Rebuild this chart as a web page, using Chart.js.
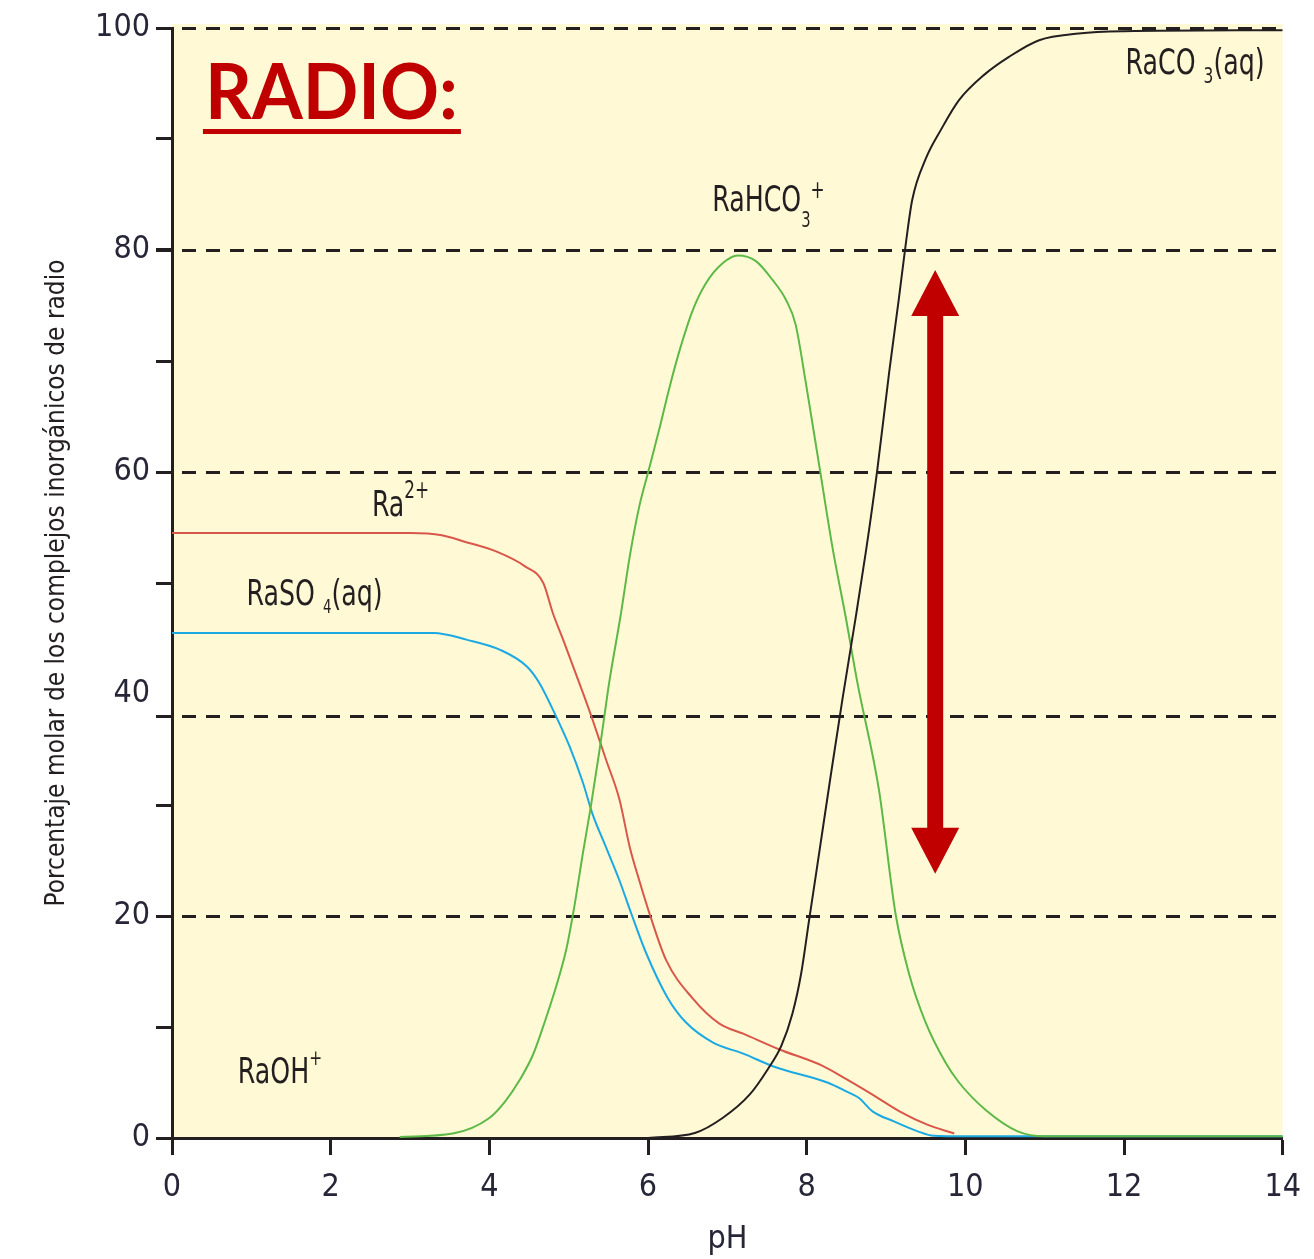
<!DOCTYPE html>
<html><head><meta charset="utf-8">
<script src="https://cdn.jsdelivr.net/npm/chart.js@4.4.1/dist/chart.umd.min.js"></script>
<style>html,body{margin:0;padding:0;background:#fff;overflow:hidden}#wrap{width:1314px;height:1259px}</style>
</head><body><div id="wrap"><canvas id="c" width="1314" height="1259"></canvas></div>
<script>
// ---- data (pH vs molar percentage) ----
const pHRa2   = [0, 3.0, 3.4, 3.7, 4.1, 4.45, 4.68, 4.8, 4.93, 5.18, 5.30, 5.47, 5.64, 5.77, 5.89, 6.02, 6.23, 6.56, 6.9, 7.2, 7.65, 8.2, 8.5, 8.83, 9.17, 9.52, 9.86];
const pctRa2  = [54.5, 54.5, 54.3, 53.7, 52.8, 51.5, 50.0, 47.3, 44.9, 40.1, 37.7, 34.1, 30.5, 26.2, 23.2, 20.2, 16.0, 12.6, 10.3, 9.4, 8.0, 6.5, 5.3, 3.9, 2.4, 1.2, 0.4];

const pHRaSO4  = [0, 3.3, 3.71, 4.13, 4.47, 4.63, 4.84, 5.01, 5.18, 5.30, 5.47, 5.64, 5.79, 5.98, 6.25, 6.48, 6.82, 7.2, 7.6, 8.26, 8.5, 8.66, 8.83, 9.1, 9.4, 9.6, 10, 14];
const pctRaSO4 = [45.5, 45.5, 44.9, 44.0, 42.5, 41.0, 38.0, 35.3, 32.0, 29.2, 26.2, 23.2, 20.2, 16.6, 12.6, 10.4, 8.6, 7.6, 6.4, 5.0, 4.2, 3.6, 2.4, 1.5, 0.6, 0.2, 0.15, 0.15];

const pHRaHCO3  = [2.87, 3.54, 4.0, 4.2, 4.38, 4.55, 4.7, 4.84, 4.97, 5.07, 5.18, 5.28, 5.39, 5.45, 5.51, 5.66, 5.77, 5.89, 6.01, 6.14, 6.27, 6.40, 6.56, 6.73, 6.94, 7.13, 7.36, 7.57, 7.74, 7.86, 7.99, 8.16, 8.33, 8.49, 8.64, 8.91, 9.12, 9.29, 9.5, 9.75, 9.92, 10.26, 10.66, 11.0, 14];
const pctRaHCO3 = [0.1, 0.4, 1.8, 3.3, 5.2, 7.5, 10.5, 13.6, 17.0, 20.8, 25.7, 29.9, 35.0, 38.0, 41.0, 47.3, 52.4, 56.9, 60.2, 63.8, 67.6, 71.0, 74.5, 77.0, 78.8, 79.5, 79.0, 77.3, 75.5, 73.3, 68.0, 60.5, 53.0, 47.0, 41.0, 31.4, 20.2, 14.8, 10.4, 6.8, 5.0, 2.5, 0.6, 0.15, 0.15];

const pHRaCO3  = [6.0, 6.59, 6.94, 7.28, 7.51, 7.68, 7.82, 7.93, 8.03, 8.16, 8.3, 8.45, 8.62, 8.75, 8.89, 9.04, 9.16, 9.25, 9.33, 9.5, 9.69, 9.92, 10.24, 10.55, 10.93, 11.43, 12, 14];
const pctRaCO3 = [0.0, 0.45, 1.8, 3.9, 6.2, 8.3, 11.2, 14.8, 19.6, 25.8, 32.5, 39.5, 47.0, 53.0, 60.2, 69.0, 75.5, 80.6, 84.5, 88.2, 90.8, 93.5, 95.8, 97.4, 98.9, 99.5, 99.7, 99.8];

// axes
const xMin = 0, xMax = 14, xStep = 2;
const yMin = 0, yMax = 100, yStep = 10, yLabelEvery = 20;
const dashedLevels = [20, 38, 60, 80, 100];
const xTitle = 'pH';
const yTitle = 'Porcentaje molar de los complejos inorgánicos de radio';
const chartTitle = 'RADIO:';

const NARROW = '"Liberation Sans Narrow", "DejaVu Sans Condensed", "Roboto Condensed", sans-serif';
const INK = '#231f20';

const pts = (xs, ys) => xs.map((x, i) => ({x, y: ys[i]}));

// annotations (positions in data units)
const speciesLabels = [
  {ph: 2.52, pct: 56.0, parts: [['Ra', 36, 0], ['2+', 24, -18]]},
  {ph: 0.94, pct: 48.0, parts: [['RaSO ', 36, 0], ['4', 19, 8], ['(aq)', 36, 0]]},
  {ph: 0.83, pct: 5.0,  parts: [['RaOH', 36, 0], ['+', 22, -18]]},
  {ph: 6.81, pct: 83.5, parts: [['RaHCO', 36, 0], ['3', 21, 16], ['+', 24, -13]]},
  {ph: 12.02, pct: 95.9, parts: [['RaCO ', 36, 0], ['3', 22, 9], ['(aq)', 36, 0]]}
];
const arrowAt = {ph: 9.62, from: 23.8, to: 78.2};
const titleAt = {ph: 0.415, pct: 91.8};

const decor = {
  id: 'decor',
  beforeDraw(chart) {
    const {ctx, chartArea: a} = chart;
    ctx.save();
    ctx.fillStyle = '#fffad5';
    ctx.fillRect(a.left, a.top - 4, a.right - a.left, a.bottom - a.top + 4);
    ctx.restore();
  },
  beforeDatasetsDraw(chart) {
    const {ctx, chartArea: a, scales: {y}} = chart;
    ctx.save();
    ctx.strokeStyle = INK;
    ctx.lineWidth = 3;
    dashedLevels.forEach(v => {
      const py = Math.round(y.getPixelForValue(v)) + 0.5;
      ctx.setLineDash([14, 10]);
      ctx.beginPath(); ctx.moveTo(a.left + 10, py); ctx.lineTo(a.right, py); ctx.stroke();
      ctx.setLineDash([]);
      ctx.beginPath(); ctx.moveTo(a.left - 16, py); ctx.lineTo(a.left, py); ctx.stroke();
    });
    ctx.restore();
  },
  afterDatasetsDraw(chart) {
    const {ctx, scales: {x, y}} = chart;
    ctx.save();
    // species labels
    const sx = 0.78;
    speciesLabels.forEach(l => {
      let px = x.getPixelForValue(l.ph);
      const py = y.getPixelForValue(l.pct);
      ctx.fillStyle = INK;
      ctx.textBaseline = 'alphabetic';
      ctx.textAlign = 'left';
      l.parts.forEach(([t, size, dy]) => {
        ctx.font = size + 'px ' + NARROW;
        const w = ctx.measureText(t).width * sx;
        ctx.save();
        ctx.translate(px, py + dy);
        ctx.scale(sx, 1);
        ctx.fillText(t, 0, 0);
        ctx.restore();
        px += w;
      });
    });
    // title
    const tx = x.getPixelForValue(titleAt.ph), ty = y.getPixelForValue(titleAt.pct);
    ctx.fillStyle = '#c00000';
    ctx.font = 'bold 76px Lato, "Open Sans", sans-serif';
    const tw = ctx.measureText(chartTitle).width;
    const tsx = 253 / tw;
    ctx.save();
    ctx.translate(tx, ty); ctx.scale(tsx, 1);
    ctx.fillText(chartTitle, 0, 0);
    ctx.restore();
    ctx.fillRect(tx - 2, ty + 10, 258, 5);
    // double arrow
    const ax = x.getPixelForValue(arrowAt.ph);
    const yTop = y.getPixelForValue(arrowAt.to), yBot = y.getPixelForValue(arrowAt.from);
    const hl = 46, hw = 24, sw = 8;
    ctx.beginPath();
    ctx.moveTo(ax, yTop);
    ctx.lineTo(ax + hw, yTop + hl);
    ctx.lineTo(ax + sw, yTop + hl);
    ctx.lineTo(ax + sw, yBot - hl);
    ctx.lineTo(ax + hw, yBot - hl);
    ctx.lineTo(ax, yBot);
    ctx.lineTo(ax - hw, yBot - hl);
    ctx.lineTo(ax - sw, yBot - hl);
    ctx.lineTo(ax - sw, yTop + hl);
    ctx.lineTo(ax - hw, yTop + hl);
    ctx.closePath();
    ctx.fill();
    ctx.restore();
  }
};

const lineDs = (label, xs, ys, color) => ({
  label, data: pts(xs, ys), borderColor: color, backgroundColor: color,
  borderWidth: 2, pointRadius: 0, fill: false, cubicInterpolationMode: 'monotone'
});

new Chart(document.getElementById('c'), {
  type: 'line',
  data: {
    datasets: [
      lineDs('RaCO3(aq)', pHRaCO3, pctRaCO3, '#231f20'),
      lineDs('RaHCO3+', pHRaHCO3, pctRaHCO3, '#5cb947'),
      lineDs('RaSO4(aq)', pHRaSO4, pctRaSO4, '#1ba9e4'),
      lineDs('Ra2+', pHRa2, pctRa2, '#d9574a')
    ]
  },
  options: {
    responsive: false, animation: false, devicePixelRatio: 1,
    layout: {padding: {top: 28, right: 30, left: 0, bottom: 0}},
    plugins: {legend: {display: false}, tooltip: {enabled: false}},
    scales: {
      x: {
        type: 'linear', min: xMin, max: xMax,
        afterFit: s => { s.height = 121; },
        ticks: {stepSize: xStep, color: '#262638', padding: 13, font: {family: NARROW, size: 32}},
        grid: {drawOnChartArea: false, tickLength: 17, tickWidth: 3, tickColor: INK},
        border: {color: INK, width: 3},
        title: {display: true, text: xTitle, color: '#262638', padding: {top: 0, bottom: 0}, font: {family: NARROW, size: 32}}
      },
      y: {
        type: 'linear', min: yMin, max: yMax,
        afterFit: s => { s.width = 172; },
        ticks: {stepSize: yStep, color: '#262638', padding: 6, font: {family: NARROW, size: 32},
          callback: v => (v % yLabelEvery === 0 ? String(v) : '')},
        grid: {drawOnChartArea: false, tickLength: 16, tickWidth: 3,
          tickColor: c => (c.tick && c.tick.value === 40 ? 'rgba(0,0,0,0)' : INK)},
        border: {color: INK, width: 3},
        title: {display: true, text: yTitle, color: INK, padding: {top: 42, bottom: 0}, font: {family: NARROW, size: 26}}
      }
    }
  },
  plugins: [decor]
});
</script>
</body></html>
